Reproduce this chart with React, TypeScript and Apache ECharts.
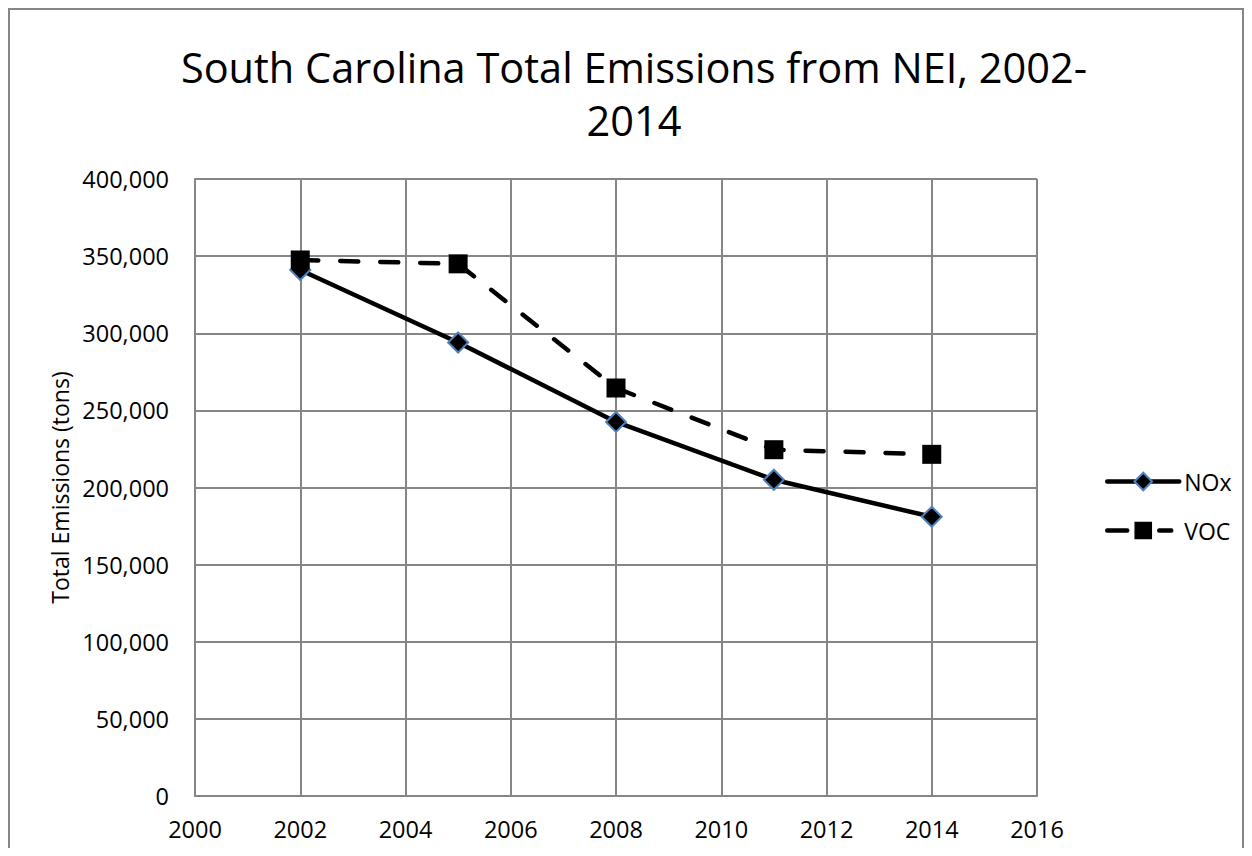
import React, { useEffect, useRef } from "react";
import * as echarts from "echarts";

const years = [2002, 2005, 2008, 2011, 2014];
const noxValues = [341000, 294000, 242500, 205000, 181000];
const vocValues = [347500, 345000, 264500, 224500, 221500];
const seriesNames = ["NOx", "VOC"];
const titleText = "South Carolina Total Emissions from NEI, 2002-\n2014";
const yAxisName = "Total Emissions (tons)";

const FONT = "'Open Sans', sans-serif";
const GRID_COLOR = "#868686";

export default function App() {
  const ref = useRef<HTMLDivElement>(null);
  useEffect(() => {
    if (!ref.current) return;
    const chart = echarts.init(ref.current, undefined, { renderer: "svg" });
    chart.setOption({
      animation: false,
      backgroundColor: "#ffffff",
      textStyle: { fontFamily: FONT },
      graphic: [
        {
          type: "text",
          x: 624,
          y: 30,
          style: {
            text: titleText,
            fontFamily: FONT,
            fontSize: 41.5,
            fill: "#000",
            textAlign: "center",
            textVerticalAlign: "top",
            lineHeight: 53,
          },
        },
      ],
      grid: { left: 185, top: 169, width: 842, height: 617, containLabel: false },
      legend: {
        orient: "vertical",
        left: 1090,
        top: 455,
        itemWidth: 72,
        itemHeight: 22,
        itemGap: 26,
        textStyle: { fontFamily: FONT, fontSize: 23, color: "#000" },
        data: [
          {
            name: seriesNames[0],
            lineStyle: { width: 4.5, cap: "round", color: "#000" },
          },
          {
            name: seriesNames[1],
            lineStyle: { width: 4.5, cap: "round", color: "#000", type: [20, 32, 12, 100] },
          },
        ],
      },
      xAxis: {
        type: "value",
        min: 2000,
        max: 2016,
        interval: 2,
        axisLine: { show: true, lineStyle: { color: GRID_COLOR, width: 2 } },
        axisTick: { show: false },
        splitLine: { show: true, lineStyle: { color: GRID_COLOR, width: 2 } },
        axisLabel: {
          fontFamily: FONT,
          fontSize: 23.5,
          color: "#000",
          margin: 21,
          formatter: (v: number) => String(v),
        },
      },
      yAxis: {
        type: "value",
        min: 0,
        max: 400000,
        interval: 50000,
        name: yAxisName,
        nameLocation: "middle",
        nameGap: 121,
        nameTextStyle: { fontFamily: FONT, fontSize: 23, color: "#000" },
        axisLine: { show: true, lineStyle: { color: GRID_COLOR, width: 2 } },
        axisTick: { show: false },
        splitLine: { show: true, lineStyle: { color: GRID_COLOR, width: 2 } },
        axisLabel: {
          fontFamily: FONT,
          fontSize: 23.5,
          color: "#000",
          margin: 26,
          formatter: (v: number) => v.toLocaleString("en-US"),
        },
      },
      series: [
        {
          name: seriesNames[0],
          type: "line",
          data: years.map((y, i) => [y, noxValues[i]]),
          symbol: "diamond",
          symbolSize: 20,
          itemStyle: { color: "#000", borderColor: "#4F81BD", borderWidth: 2 },
          lineStyle: { color: "#000", width: 4.5, cap: "round", join: "round" },
          z: 3,
        },
        {
          name: seriesNames[1],
          type: "line",
          data: years.map((y, i) => [y, vocValues[i]]),
          symbol: "rect",
          symbolSize: 19,
          itemStyle: { color: "#000" },
          lineStyle: { color: "#000", width: 4.5, type: [18, 22], cap: "round", join: "round" },
          z: 4,
        },
      ],
    });
    return () => chart.dispose();
  }, []);
  return (
    <div
      style={{
        width: 1232,
        height: 838,
        border: "2px solid #868686",
        borderBottom: "none",
        background: "#fff",
      }}
    >
      <div ref={ref} style={{ width: 1232, height: 838 }} />
    </div>
  );
}
